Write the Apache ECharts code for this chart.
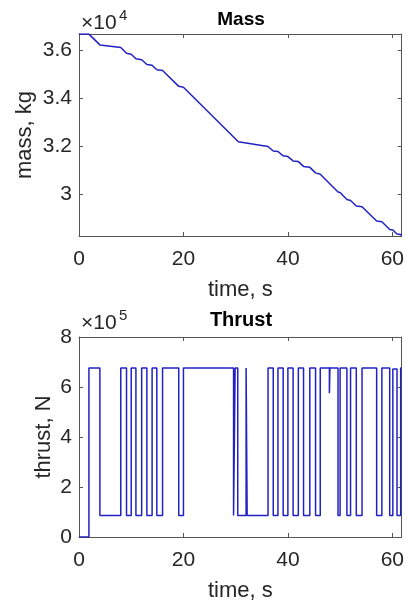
<!DOCTYPE html>
<html>
<head>
<meta charset="utf-8">
<script src="https://cdn.jsdelivr.net/npm/echarts@6.0.0/dist/echarts.min.js"></script>
<style>
  html, body { margin: 0; padding: 0; background: #fff; }
  #chart { width: 407px; height: 603px; }
</style>
</head>
<body>
<div id="chart"></div>
<script>
// time axis ticks (s)
const timeTicks = [0, 20, 40, 60]
const timeMax = 61.8

// mass vs time (kg)
const massTime = [0, 1.9, 4.0, 8.0, 9.1, 10.0, 10.9, 12.0, 13.0, 14.0, 14.9, 16.0, 19.1, 20.0, 29.6, 29.9, 30.5, 32.0, 32.25, 36.2, 37.2, 38.1, 39.1, 40.0, 41.0, 42.0, 43.0, 44.2, 45.3, 46.2, 49.6, 50.0, 51.3, 52.0, 53.1, 54.2, 57.0, 58.0, 59.5, 60.1, 60.9, 61.6, 61.8]
const massKg = [36690, 36690, 36240, 36130, 35890, 35850, 35660, 35620, 35420, 35390, 35200, 35170, 34510, 34470, 32400, 32390, 32200, 32150, 32100, 32000, 31810, 31790, 31610, 31580, 31400, 31370, 31170, 31130, 30900, 30840, 30100, 30080, 29790, 29750, 29520, 29490, 28890, 28860, 28540, 28520, 28350, 28330, 28270]
const massTicks = [30000, 32000, 34000, 36000]
const massMin = 28266
const massMax = 36694

// thrust switching times (s) and level held from that time (N)
const thrustTime = [0, 1.9, 4.0, 8.0, 9.1, 10.0, 10.9, 12.0, 13.0, 14.0, 14.9, 16.0, 19.1, 20.0, 29.6, 29.9, 30.4, 32.0, 32.2, 36.2, 37.2, 38.1, 39.1, 40.0, 41.0, 42.0, 43.0, 44.2, 45.3, 46.2, 47.95, 48.05, 49.6, 50.0, 51.3, 52.0, 53.1, 54.2, 57.0, 58.0, 59.5, 60.1, 60.9, 61.6, 61.8]
const thrustN = [0, 676000, 86000, 676000, 86000, 676000, 86000, 676000, 86000, 676000, 86000, 676000, 86000, 676000, 86000, 676000, 86000, 676000, 86000, 676000, 86000, 676000, 86000, 676000, 86000, 676000, 86000, 676000, 86000, 676000, 575000, 676000, 86000, 676000, 86000, 676000, 86000, 676000, 86000, 676000, 86000, 672000, 86000, 676000, 676000]

const FONT = "'Liberation Sans', Arial, Helvetica, sans-serif"
const TEXT = '#262626'
const AXIS = '#555'
const LINE = '#2222c4'

const chart = echarts.init(document.getElementById('chart'))

function zip(xs, ys) {
  return xs.map((x, i) => [x, ys[i]])
}

function boxAxis(gridIndex, position, extra) {
  return Object.assign({
    gridIndex: gridIndex,
    type: 'value',
    position: position,
    nameMoveOverlap: false,
    axisLine: { show: true, onZero: false, lineStyle: { color: AXIS, width: 1 } },
    axisTick: { show: true, inside: true, length: 4, lineStyle: { color: AXIS } },
    axisLabel: { show: false },
    splitLine: { show: false }
  }, extra)
}

function timeAxis(gridIndex) {
  return boxAxis(gridIndex, 'bottom', {
    min: 0,
    max: timeMax,
    axisTick: { show: true, inside: true, length: 4, customValues: timeTicks, lineStyle: { color: AXIS } },
    axisLabel: { show: true, customValues: timeTicks, fontSize: 21, color: TEXT, fontFamily: FONT, margin: 13 },
    name: 'time, s',
    nameLocation: 'middle',
    nameGap: 43,
    nameTextStyle: { fontSize: 22, color: TEXT, fontFamily: FONT }
  })
}

function timeAxisTop(gridIndex) {
  return boxAxis(gridIndex, 'top', {
    min: 0,
    max: timeMax,
    axisTick: { show: true, inside: true, length: 4, customValues: timeTicks, lineStyle: { color: AXIS } }
  })
}

chart.setOption({
  animation: false,
  backgroundColor: '#fff',
  grid: [
    { left: 79, top: 34, width: 323, height: 202 },
    { left: 79, top: 337, width: 323, height: 201 }
  ],
  xAxis: [timeAxis(0), timeAxisTop(0), timeAxis(1), timeAxisTop(1)],
  yAxis: [
    boxAxis(0, 'left', {
      min: massMin,
      max: massMax,
      axisTick: { show: true, inside: true, length: 4, customValues: massTicks, lineStyle: { color: AXIS } },
      axisLabel: {
        show: true, customValues: massTicks, fontSize: 21, color: TEXT, fontFamily: FONT, margin: 7,
        formatter: v => String(+(v / 1e4).toFixed(1))
      },
      name: 'mass, kg',
      nameLocation: 'middle',
      nameGap: 43,
      nameTextStyle: { fontSize: 22, color: TEXT, fontFamily: FONT }
    }),
    boxAxis(0, 'right', {
      min: massMin,
      max: massMax,
      axisTick: { show: true, inside: true, length: 4, customValues: massTicks, lineStyle: { color: AXIS } }
    }),
    boxAxis(1, 'left', {
      min: 0,
      max: 800000,
      interval: 200000,
      axisTick: { show: true, inside: true, length: 4, lineStyle: { color: AXIS } },
      axisLabel: {
        show: true, fontSize: 21, color: TEXT, fontFamily: FONT, margin: 7,
        formatter: v => String(v / 1e5)
      },
      name: 'thrust, N',
      nameLocation: 'middle',
      nameGap: 24,
      nameTextStyle: { fontSize: 22, color: TEXT, fontFamily: FONT }
    }),
    boxAxis(1, 'right', {
      min: 0,
      max: 800000,
      interval: 200000,
      axisTick: { show: true, inside: true, length: 4, lineStyle: { color: AXIS } }
    })
  ],
  graphic: [
    { type: 'text', style: { text: 'Mass', x: 241, y: 20, textAlign: 'center', textVerticalAlign: 'middle', font: 'bold 19px ' + FONT, fill: '#000' } },
    { type: 'text', style: { text: '×10', x: 81, y: 23, textAlign: 'left', textVerticalAlign: 'middle', font: '21px ' + FONT, fill: TEXT } },
    { type: 'text', style: { text: '4', x: 119, y: 16, textAlign: 'left', textVerticalAlign: 'middle', font: '15px ' + FONT, fill: TEXT } },
    { type: 'text', style: { text: 'Thrust', x: 241, y: 320, textAlign: 'center', textVerticalAlign: 'middle', font: 'bold 20px ' + FONT, fill: '#000' } },
    { type: 'text', style: { text: '×10', x: 81, y: 323, textAlign: 'left', textVerticalAlign: 'middle', font: '21px ' + FONT, fill: TEXT } },
    { type: 'text', style: { text: '5', x: 119, y: 316, textAlign: 'left', textVerticalAlign: 'middle', font: '15px ' + FONT, fill: TEXT } }
  ],
  series: [
    {
      name: 'mass',
      type: 'line',
      xAxisIndex: 0,
      yAxisIndex: 0,
      data: zip(massTime, massKg),
      symbol: 'none',
      lineStyle: { color: LINE, width: 1.5 }
    },
    {
      name: 'thrust',
      type: 'line',
      xAxisIndex: 2,
      yAxisIndex: 2,
      step: 'end',
      data: zip(thrustTime, thrustN),
      symbol: 'none',
      lineStyle: { color: LINE, width: 1.5 }
    }
  ]
})
</script>
</body>
</html>
